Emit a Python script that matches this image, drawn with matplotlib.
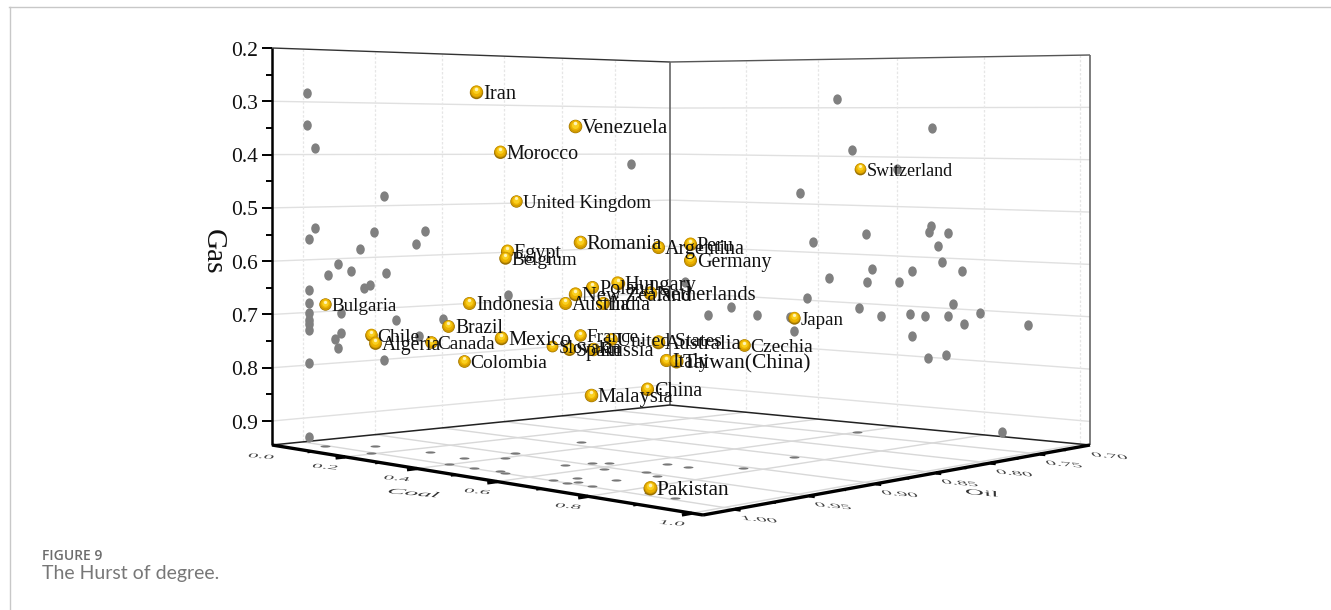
import numpy as np
import matplotlib
matplotlib.use('Agg')
import matplotlib.pyplot as plt
import matplotlib.patheffects as pe
from matplotlib.markers import MarkerStyle
from matplotlib.transforms import Affine2D

countries = ['Iran','Venezuela','Morocco','United Kingdom','Romania','Argentina','Egypt','Belgium','Hungary','Poland','New Zealand','Netherlands','Austria','India','Indonesia','Bulgaria','Brazil','Chile','Algeria','Canada','Mexico','Colombia','France','Slovakia','Spain','Russia','United States','Australia','Czechia','Japan','Italy','Taiwan(China)','China','Pakistan','Malaysia','Peru','Germany','Switzerland']
coal_v = [0.231,0.358,0.262,0.282,0.365,0.464,0.271,0.269,0.412,0.38,0.359,0.453,0.346,0.393,0.223,0.038,0.195,0.097,0.102,0.172,0.263,0.216,0.365,0.329,0.35,0.381,0.404,0.465,0.575,0.64,0.475,0.487,0.45,0.829,0.379,0.505,0.505,0.724]
oil_v = [0.939,0.9,0.93,0.923,0.898,0.867,0.927,0.928,0.883,0.893,0.9,0.87,0.904,0.889,0.942,0.999,0.95,0.981,0.979,0.957,0.929,0.944,0.898,0.909,0.902,0.893,0.886,0.867,0.833,0.813,0.864,0.86,0.871,0.99,0.894,0.854,0.854,0.787]
gas_v = [0.279,0.343,0.392,0.485,0.562,0.571,0.579,0.592,0.638,0.647,0.659,0.657,0.677,0.677,0.678,0.681,0.721,0.738,0.753,0.752,0.743,0.787,0.738,0.759,0.763,0.764,0.745,0.75,0.756,0.703,0.785,0.786,0.839,0.94,0.851,0.564,0.595,0.42]

left_oil = [0.997,0.997,0.992,0.944,0.992,0.996,0.951,0.913,0.92,0.961,0.976,0.983,0.967,0.942,0.954,0.958,0.996,0.996,0.974,0.935,0.899,0.847,0.735,0.996,0.996,0.996,0.996,0.996,0.996,0.974,0.978,0.976,0.918,0.944]
left_gas = [0.283,0.343,0.388,0.481,0.539,0.561,0.551,0.551,0.576,0.583,0.61,0.631,0.625,0.632,0.653,0.658,0.657,0.683,0.705,0.724,0.728,0.688,0.422,0.701,0.714,0.722,0.733,0.796,0.937,0.744,0.753,0.771,0.759,0.802]
right_coal = [0.448,0.683,0.488,0.6,0.352,0.679,0.675,0.718,0.523,0.385,0.695,0.705,0.537,0.636,0.75,0.428,0.526,0.604,0.371,0.73,0.505,0.156,0.79,0.089,0.231,0.559,0.63,0.666,0.719,0.754,0.894,0.324,0.334,0.017,0.636,0.672,0.715,0.839]
right_gas = [0.281,0.341,0.386,0.425,0.478,0.537,0.55,0.549,0.558,0.579,0.576,0.608,0.629,0.628,0.624,0.652,0.655,0.652,0.696,0.691,0.709,0.723,0.705,0.745,0.737,0.723,0.716,0.718,0.716,0.729,0.723,0.738,0.765,0.675,0.759,0.801,0.793,0.936]
floor_coal = [0.047,0.11,0.189,0.254,0.357,0.406,0.369,0.329,0.397,0.457,0.514,0.539,0.538,0.555,0.576,0.619,0.647,0.656,0.683,0.693,0.733,0.718,0.692,0.729,0.648,0.696,0.843,0.899,0.595,0.74,0.766]
floor_oil = [1.001,0.981,1.001,0.977,0.979,0.964,0.947,0.887,0.999,0.998,0.996,0.999,0.959,0.945,0.939,0.956,0.998,0.985,0.999,0.995,0.998,0.978,0.949,0.953,0.92,0.92,0.995,0.997,0.735,0.852,0.903]

gas_ticks = [0.2,0.3,0.4,0.5,0.6,0.7,0.8,0.9]
coal_ticks = [0.0,0.2,0.4,0.6,0.8,1.0]
oil_ticks = [0.70,0.75,0.80,0.85,0.90,0.95,1.00]

# label sizes differ with the depth of each point
label_pt = [14.8,15,14.4,13.7,15,14.5,14.5,13.8,14.8,14.4,14.8,14.9,14.2,14.4,14.4,13.7,14.1,14,14.2,13.9,14.9,14,13.8,13,14.4,14.8,14,15,14,13.7,14.5,15.5,14.5,15.5,14.9,14.5,14.4,13]

COAL_LIM = (-0.03,1.02)
OIL_LIM = (0.695,1.02)
GAS_LIM = (0.2,0.945)

# floor corners of the box on the page, left/front/back/right
corners = [(272,445),(703,515),(670,405),(1090,445)]
A=[];b=[]
for (u,v),(x,y) in zip([(0,0),(1,0),(0,1),(1,1)],corners):
    A.append([u,v,1,0,0,0,-u*x,-v*x]);b.append(x)
    A.append([0,0,0,u,v,1,-u*y,-v*y]);b.append(y)
H = np.append(np.linalg.solve(A,b),1).reshape(3,3)
wb = H[2,1]+1
wr = H[2,0]+H[2,1]+1
h_a = 397.0
h_c = 343*wb-h_a
h_b = 390*wr-h_a-h_c

def project(coal,oil,gas):
    u = (np.asarray(coal,float)-COAL_LIM[0])/(COAL_LIM[1]-COAL_LIM[0])
    v = (OIL_LIM[1]-np.asarray(oil,float))/(OIL_LIM[1]-OIL_LIM[0])
    t = (GAS_LIM[1]-np.asarray(gas,float))/(GAS_LIM[1]-GAS_LIM[0])
    w = H[2,0]*u+H[2,1]*v+1
    x = (H[0,0]*u+H[0,1]*v+H[0,2])/w
    y = (H[1,0]*u+H[1,1]*v+H[1,2])/w-t*(h_a+h_b*u+h_c*v)/w
    return x,y

class Squash(pe.AbstractPathEffect):
    # flattens text so it lies on the floor
    def __init__(self,sy,skew,rot):
        super().__init__()
        self.sy,self.skew,self.rot = sy,skew,rot
    def draw_path(self,renderer,gc,tpath,affine,rgbFace=None):
        x0,y0 = affine.transform((0,0))
        t = Affine2D().translate(-x0,-y0).scale(1,self.sy).skew_deg(self.skew,0).rotate_deg(self.rot).translate(x0,y0)
        renderer.draw_path(gc,tpath,affine+t,rgbFace)

plt.rcParams['font.family'] = 'Liberation Serif'
fig = plt.figure(figsize=(13.31,6.10),dpi=100)
ax = fig.add_axes([0,0,1,1])
ax.set_xlim(0,1331)
ax.set_ylim(610,0)
ax.axis('off')

def seg(c,o,g,**kw):
    x,y = project(c,o,g)
    ax.plot(x,y,solid_capstyle='butt',**kw)

c0,c1 = COAL_LIM
o0,o1 = OIL_LIM
g0,g1 = GAS_LIM
grid_h = dict(color='#e0e0e0',lw=1.0,zorder=1)
grid_v = dict(color='#e6e6e6',lw=0.9,ls=(0,(2,1.5)),zorder=1)
floor_g = dict(color='#d8d8d8',lw=1.0,zorder=1)
for g in gas_ticks[1:]:
    seg([c0,c0],[o1,o0],[g,g],**grid_h)
    seg([c0,c1],[o0,o0],[g,g],**grid_h)
for o in oil_ticks[1:]:
    seg([c0,c0],[o,o],[g0,g1],**grid_v)
    seg([c0,c1],[o,o],[g1,g1],**floor_g)
for c in coal_ticks[1:]:
    seg([c,c],[o0,o0],[g0,g1],**grid_v)
    seg([c,c],[o0,o1],[g1,g1],**floor_g)

# box edges
seg([c0,c0],[o1,o0],[g0,g0],color='#333333',lw=1.0,zorder=2)
seg([c0,c1],[o0,o0],[g0,g0],color='#555555',lw=1.0,zorder=2)
seg([c0,c0],[o0,o0],[g0,g1],color='#666666',lw=1.2,zorder=2)
seg([c1,c1],[o0,o0],[g0,g1],color='#666666',lw=1.2,zorder=2)
seg([c0,c0],[o1,o0],[g1,g1],color='#222222',lw=1.1,zorder=2)
seg([c0,c1],[o0,o0],[g1,g1],color='#222222',lw=1.1,zorder=2)
seg([c0,c0],[o1,o1],[g0,g1],color='black',lw=1.8,zorder=3)
seg([c0,c1],[o1,o1],[g1,g1],color='black',lw=2.4,zorder=3)
seg([c1,c1],[o1,o0],[g1,g1],color='black',lw=2.4,zorder=3)

# gas axis
x_l,_ = project(c0,o1,g0)
for g in np.arange(0.2,0.95,0.05):
    _,y = project(c0,o1,g)
    major = round(g*10,4)==round(g*10)
    ax.plot([x_l-(10 if major else 6),x_l],[y,y],color='black',lw=1.4,zorder=3,solid_capstyle='butt')
for g in gas_ticks:
    _,y = project(c0,o1,g)
    ax.text(258,y+3,'%.1f'%g,ha='right',va='center',fontsize=15.5,color='#111111')
ax.text(213,252,'Gas',rotation=270,ha='center',va='center',fontsize=21,color='#111111')

# floor ticks, flat text
flat_l = [Squash(0.3,25,-5)]
flat_r = [Squash(0.3,-35,-5)]
for c in np.arange(0.1,1.05,0.1):
    major = round(c*5,4)==round(c*5)
    seg([c,c],[o1,o1+(0.006 if major else 0.003)],[g1,g1],color='black',lw=2.4 if major else 1.8,zorder=3)
for c in coal_ticks:
    x,y = project(c,o1,g1)
    ax.text(x-21,y+6,'%.1f'%c,ha='center',va='center',fontsize=15,color='#444444',path_effects=flat_l)
for o in np.arange(0.725,1.02,0.025):
    major = round(o*20,4)==round(o*20)
    seg([c1,c1+(0.01 if major else 0.005)],[o,o],[g1,g1],color='black',lw=2.4 if major else 1.8,zorder=3)
for o in oil_ticks:
    x,y = project(c1,o,g1)
    ax.text(x+25,y+6,'%.2f'%o,ha='center',va='center',fontsize=15,color='#444444',path_effects=flat_r)
ax.text(412,487,'Coal',ha='center',va='center',fontsize=19,style='italic',color='#333333',path_effects=flat_l)
ax.text(983,488,'Oil',ha='center',va='center',fontsize=19,style='italic',color='#333333',path_effects=flat_r)

# shadows on the walls and floor
wall_m = MarkerStyle('o',transform=Affine2D().scale(1,1.2))
flat_m = MarkerStyle('o',transform=Affine2D().scale(1,0.22))
x,y = project(np.full(len(left_oil),c0),left_oil,left_gas)
ax.scatter(x,y,s=38,marker=wall_m,color='#808080',linewidths=0,zorder=4)
x,y = project(right_coal,np.full(len(right_coal),o0),right_gas)
ax.scatter(x,y,s=38,marker=wall_m,color='#808080',linewidths=0,zorder=4)
x,y = project(floor_coal,floor_oil,np.full(len(floor_coal),g1))
ax.scatter(x,y,s=52,marker=flat_m,color='#777777',linewidths=0,zorder=4)

# gold balls, built up from layers
x,y = project(coal_v,oil_v,gas_v)
d = np.array(label_pt)*0.65
layers = [(1.0,0,0,'#9a7000'),(0.92,-0.01,-0.04,'#d09a00'),(0.76,-0.01,-0.08,'#ecb200'),(0.52,-0.01,-0.13,'#fad020'),(0.26,0.0,-0.22,'#fff4b8')]
for i,name in enumerate(countries):
    for frac,dx,dy,col in layers:
        dpx = d[i]/0.72
        ax.scatter(x[i]+dx*dpx,y[i]+dy*dpx,s=(d[i]*frac)**2,color=col,linewidths=0,zorder=5+i*0.01)
    ax.text(x[i]+6.5,y[i]+7,name,fontsize=label_pt[i],color='#111111',ha='left',va='baseline',zorder=6)

# page furniture
ax.plot([9.5,9.5],[7,610],color='#c8c8c8',lw=1,zorder=0)
ax.plot([9,1331],[6.5,6.5],color='#c8c8c8',lw=1,zorder=0)
ax.text(42,556,'FIGURE 9',fontsize=10,family='Open Sans',weight='semibold',color='#6d6d6d',va='center')
ax.text(42,574,'The Hurst of degree.',fontsize=14,family='Lato',weight='normal',color='#777777',va='center')

fig.savefig('out.png',dpi=100)
